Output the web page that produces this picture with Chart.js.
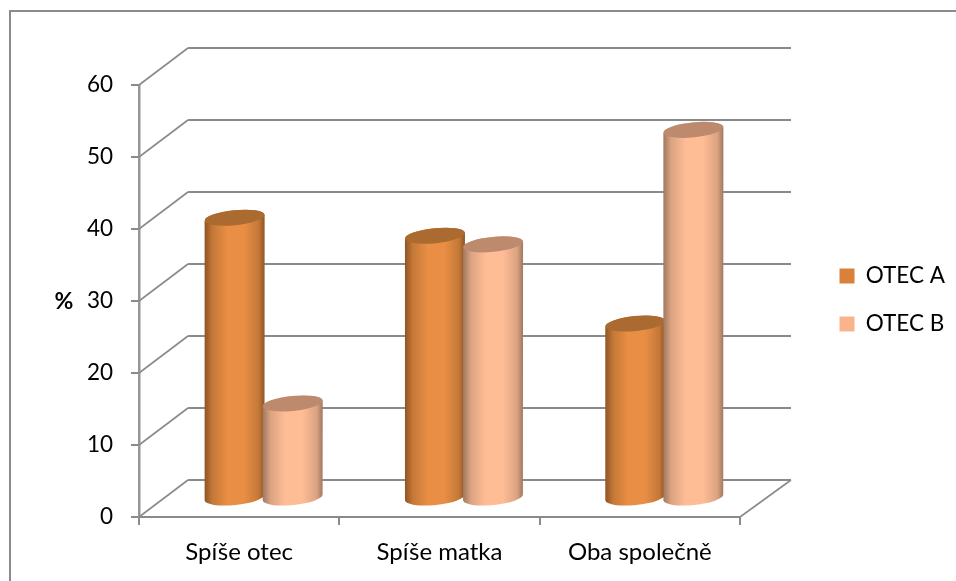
<!DOCTYPE html>
<html>
<head>
<meta charset="utf-8">
<style>
  html, body { margin: 0; padding: 0; background: #fff; }
  #wrap { position: relative; width: 956px; height: 581px; }
</style>
<script src="https://cdn.jsdelivr.net/npm/chart.js@4"></script>
</head>
<body>
<div id="wrap"><canvas id="chart" width="956" height="581"></canvas></div>
<script>
const categories = ['Spíše otec', 'Spíše matka', 'Oba společně'];
const otecA = [39, 36.5, 24.3];
const otecB = [13.2, 35.3, 51.2];
const seriesNames = ['OTEC A', 'OTEC B'];
const yTicks = [0, 10, 20, 30, 40, 50, 60];
const yTitle = '%';

const GRID = '#8a8a8a';
const AXIS = '#969696';
const FONT = 'Lato, "Open Sans", sans-serif';
// depth of the fake 3D box, in px
const DEPTH_X = 49;
const DEPTH_Y = 37;
const CYL_W = 60;
const CYL_RY = 7.5;
const TILT = -0.1;

const styles = [
  { edge: '#8f5523', near: '#c47838', mid: '#e98e45', top: '#ab6a30', swatch: '#d98039' },
  { edge: '#9f7860', near: '#dba381', mid: '#ffbd96', top: '#bd8a6e', swatch: '#f9b48c' }
];

// back wall, floor and the diagonals on the side wall
const wallsPlugin = {
  id: 'walls',
  beforeDatasetsDraw(chart) {
    const { ctx, scales: { x, y } } = chart;
    ctx.save();
    ctx.strokeStyle = GRID;
    yTicks.forEach(t => {
      const py = y.getPixelForValue(t);
      ctx.lineWidth = 1.6;
      ctx.beginPath();
      ctx.moveTo(x.left, py);
      ctx.lineTo(x.left + DEPTH_X, py - DEPTH_Y);
      ctx.stroke();
      ctx.lineWidth = 2;
      ctx.beginPath();
      ctx.moveTo(x.left + DEPTH_X, py - DEPTH_Y);
      ctx.lineTo(x.right + DEPTH_X + 2, py - DEPTH_Y);
      ctx.stroke();
    });
    const p0 = y.getPixelForValue(0);
    ctx.lineWidth = 1.6;
    ctx.beginPath();
    ctx.moveTo(x.right, p0);
    ctx.lineTo(x.right + DEPTH_X + 2, p0 - DEPTH_Y);
    ctx.stroke();
    ctx.restore();
  }
};

function cylinder(ctx, cx, topY, baseY, st) {
  const rx = CYL_W / 2;
  const g = ctx.createLinearGradient(cx - rx, 0, cx + rx, 0);
  g.addColorStop(0, st.edge);
  g.addColorStop(0.13, st.near);
  g.addColorStop(0.38, st.mid);
  g.addColorStop(0.66, st.mid);
  g.addColorStop(0.9, st.near);
  g.addColorStop(1, st.edge);
  const dy = rx * Math.sin(TILT);
  ctx.beginPath();
  ctx.moveTo(cx - rx, topY - dy);
  ctx.lineTo(cx - rx, baseY - dy);
  ctx.ellipse(cx, baseY, rx, CYL_RY, TILT, Math.PI, 0, true);
  ctx.lineTo(cx + rx, topY + dy);
  ctx.ellipse(cx, topY, rx, CYL_RY, TILT, 0, Math.PI, true);
  ctx.closePath();
  ctx.fillStyle = g;
  ctx.fill();
  ctx.beginPath();
  ctx.ellipse(cx, topY, rx, CYL_RY, TILT, 0, Math.PI * 2);
  ctx.fillStyle = st.top;
  ctx.fill();
}

// the bars themselves are hidden, cylinders are drawn on their positions
const cylindersPlugin = {
  id: 'cylinders',
  afterDatasetsDraw(chart) {
    const ctx = chart.ctx;
    ctx.save();
    categories.forEach((c, i) => {
      chart.data.datasets.forEach((ds, d) => {
        const bar = chart.getDatasetMeta(d).data[i];
        cylinder(ctx, bar.x + DEPTH_X / 2, bar.y - DEPTH_Y / 2, bar.base - DEPTH_Y / 2, styles[d]);
      });
    });
    ctx.restore();
  }
};

const framePlugin = {
  id: 'frame',
  beforeDraw(chart) {
    const ctx = chart.ctx;
    ctx.save();
    // only the top and left edges of the frame are inside the picture
    ctx.strokeStyle = GRID;
    ctx.lineWidth = 2;
    ctx.beginPath();
    ctx.moveTo(956, 11);
    ctx.lineTo(10, 11);
    ctx.lineTo(10, 581);
    ctx.stroke();
    ctx.restore();
  },
  afterDraw(chart) {
    const ctx = chart.ctx;
    ctx.save();
    ctx.fillStyle = '#000';
    ctx.font = 'bold 23px ' + FONT;
    ctx.textAlign = 'center';
    ctx.textBaseline = 'middle';
    ctx.fillText(yTitle, 64, 302);
    ctx.restore();
  }
};

// legend sits right of the plot, the padding only reserves the empty gap
const legendShift = {
  id: 'legendShift',
  afterLayout(chart) {
    const l = chart.legend;
    l.left += 74;
    l.right += 74;
    l.top -= 33;
    l.bottom -= 33;
  }
};

new Chart(document.getElementById('chart'), {
  type: 'bar',
  data: {
    labels: categories,
    datasets: [
      { label: seriesNames[0], data: otecA, backgroundColor: 'rgba(0,0,0,0)', legendColor: styles[0].swatch },
      { label: seriesNames[1], data: otecB, backgroundColor: 'rgba(0,0,0,0)', legendColor: styles[1].swatch }
    ]
  },
  options: {
    responsive: false,
    animation: false,
    categoryPercentage: 0.58,
    barPercentage: 1,
    layout: { padding: { left: 0, top: 85, right: 75, bottom: 0 } },
    scales: {
      x: {
        afterFit(axis) { axis.height = 64; },
        grid: { drawOnChartArea: false, color: GRID, lineWidth: 2, tickLength: 8 },
        border: { color: GRID, width: 2 },
        ticks: { color: '#000', font: { family: FONT, size: 24 }, padding: 13, maxRotation: 0 }
      },
      y: {
        min: 0,
        max: 60,
        afterBuildTicks(axis) { axis.ticks = yTicks.map(v => ({ value: v })); },
        afterFit(axis) { axis.width = 139; },
        grid: { drawOnChartArea: false, color: GRID, lineWidth: 2, tickLength: 8 },
        border: { color: AXIS, width: 2.5 },
        ticks: { color: '#000', font: { family: FONT, size: 22.5 }, padding: 18 }
      }
    },
    plugins: {
      title: { display: false },
      tooltip: { enabled: false },
      legend: {
        position: 'right',
        labels: {
          color: '#000',
          font: { family: FONT, size: 22.5 },
          boxWidth: 15,
          boxHeight: 15,
          padding: 25.5,
          generateLabels(chart) {
            return chart.data.datasets.map((ds, i) => ({
              text: ds.label,
              fillStyle: ds.legendColor,
              strokeStyle: ds.legendColor,
              lineWidth: 0,
              datasetIndex: i,
              fontColor: '#000'
            }));
          }
        }
      }
    }
  },
  plugins: [framePlugin, wallsPlugin, cylindersPlugin, legendShift]
});
</script>
</body>
</html>
